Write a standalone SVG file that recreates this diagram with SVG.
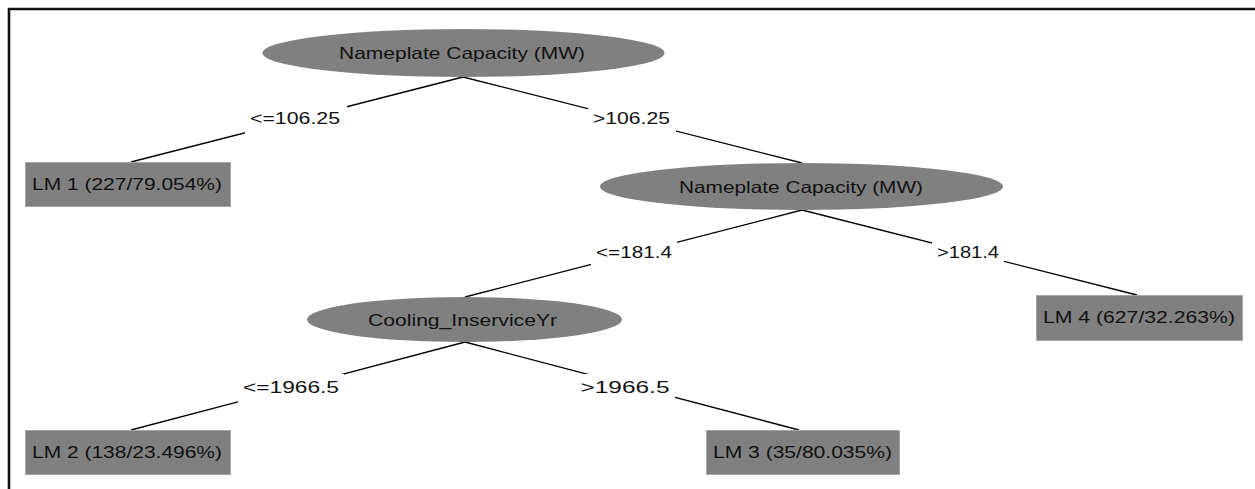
<svg xmlns="http://www.w3.org/2000/svg" width="1255" height="489" viewBox="0 0 1255 489">
<style>
.node ellipse{fill:#808080;stroke:none}
.node rect{fill:#808080;stroke:#a6a6a6;stroke-width:1}
.t{font-family:"Liberation Sans",Arial,sans-serif;font-size:16.5px;fill:#111;text-anchor:middle}
.edge line{stroke:#000;stroke-width:1.3}
.lbl rect{fill:#fff}
</style>
<rect x="0" y="0" width="1255" height="489" fill="#fff"/>
<path d="M9,489 V9 H1255" fill="none" stroke="#111" stroke-width="2.6"/>
<g id="connectors" class="edge">
<line x1="463" y1="77" x2="131" y2="162"/>
<line x1="463" y1="77" x2="802" y2="163"/>
<line x1="802" y1="210" x2="465" y2="297"/>
<line x1="802" y1="210" x2="1137" y2="295"/>
<line x1="465" y1="342" x2="131" y2="430"/>
<line x1="465" y1="342" x2="799" y2="430"/>
</g>
<g id="edge-labels" class="lbl">
<rect x="245" y="105" width="102" height="29"/><text class="t" x="295" y="124" textLength="90" lengthAdjust="spacingAndGlyphs">&lt;=106.25</text>
<rect x="588" y="104" width="88" height="29"/><text class="t" x="631.5" y="124" textLength="77" lengthAdjust="spacingAndGlyphs">&gt;106.25</text>
<rect x="591" y="239" width="86" height="29"/><text class="t" x="634" y="258" textLength="76" lengthAdjust="spacingAndGlyphs">&lt;=181.4</text>
<rect x="932" y="239" width="72" height="29"/><text class="t" x="968" y="258" textLength="62" lengthAdjust="spacingAndGlyphs">&gt;181.4</text>
<rect x="238" y="374" width="106" height="29"/><text class="t" x="291" y="393" textLength="96" lengthAdjust="spacingAndGlyphs">&lt;=1966.5</text>
<rect x="575" y="374" width="100" height="29"/><text class="t" x="625" y="393" textLength="89" lengthAdjust="spacingAndGlyphs">&gt;1966.5</text>
</g>
<g id="n-root" class="node">
<ellipse cx="463.5" cy="53" rx="201" ry="24"/>
<text class="t" x="462" y="59" textLength="246" lengthAdjust="spacingAndGlyphs">Nameplate Capacity (MW)</text>
</g>
<g id="n-cap2" class="node">
<ellipse cx="801.5" cy="186.5" rx="201.5" ry="23.5"/>
<text class="t" x="801" y="193" textLength="244" lengthAdjust="spacingAndGlyphs">Nameplate Capacity (MW)</text>
</g>
<g id="n-cool" class="node">
<ellipse cx="464.5" cy="319.5" rx="157.5" ry="22.5"/>
<text class="t" x="462.5" y="326" textLength="189" lengthAdjust="spacingAndGlyphs">Cooling_InserviceYr</text>
</g>
<g id="lm1" class="node">
<rect x="25.5" y="162.5" width="205" height="44"/>
<text class="t" x="127" y="190" textLength="190" lengthAdjust="spacingAndGlyphs">LM 1 (227/79.054%)</text>
</g>
<g id="lm4" class="node">
<rect x="1036.5" y="295.5" width="206" height="45"/>
<text class="t" x="1139" y="323" textLength="192" lengthAdjust="spacingAndGlyphs">LM 4 (627/32.263%)</text>
</g>
<g id="lm2" class="node">
<rect x="25.5" y="430.5" width="205" height="44"/>
<text class="t" x="127" y="458" textLength="190" lengthAdjust="spacingAndGlyphs">LM 2 (138/23.496%)</text>
</g>
<g id="lm3" class="node">
<rect x="706.5" y="430.5" width="193" height="44"/>
<text class="t" x="802.5" y="458" textLength="179" lengthAdjust="spacingAndGlyphs">LM 3 (35/80.035%)</text>
</g>
</svg>
